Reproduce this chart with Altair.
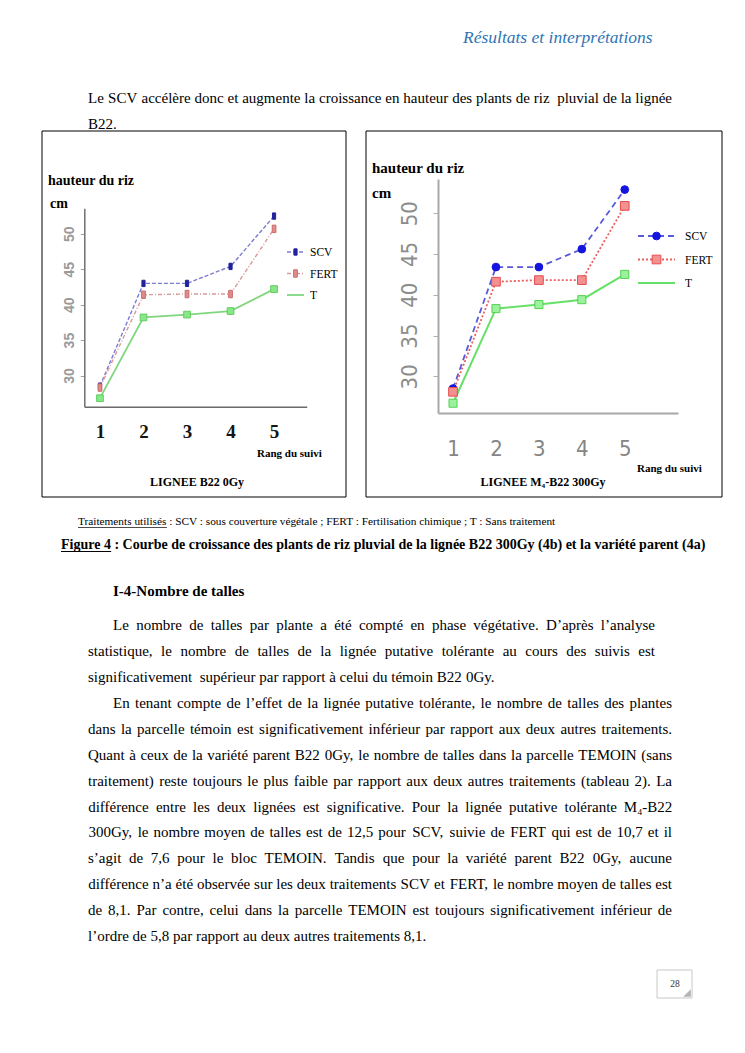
import altair as alt
import pandas as pd

# ----------------------------- data -----------------------------
ranks = [1, 2, 3, 4, 5]
y_ticks = [30, 35, 40, 45, 50]
series_names = ["SCV", "FERT", "T"]

# LIGNEE B22 0Gy (left panel)
b22_scv = [28.5, 43.0, 43.0, 45.4, 52.5]
b22_fert = [28.3, 41.4, 41.5, 41.5, 50.7]
b22_t = [26.8, 38.2, 38.6, 39.1, 42.2]

# LIGNEE M4-B22 300Gy (right panel)
m4_scv = [28.5, 43.4, 43.4, 45.6, 52.9]
m4_fert = [28.1, 41.6, 41.8, 41.8, 50.9]
m4_t = [26.7, 38.3, 38.8, 39.4, 42.5]

header_text = "Résultats et interprétations"
intro_lines = [
    "Le SCV accélère donc et augmente la croissance en hauteur des plants de riz  pluvial de la lignée",
    "B22.",
]
ytitle_1 = "hauteur du riz"
ytitle_2 = "cm"
xtitle = "Rang du suivi"
panel_left_title = "LIGNEE B22 0Gy"
panel_right_title = "LIGNEE M\u2084-B22 300Gy"
caption_label = "Traitements utilisés"
caption_rest = " : SCV : sous couverture végétale ; FERT : Fertilisation chimique ; T : Sans traitement"
figure_label = "Figure 4"
figure_rest = " : Courbe de croissance des plants de riz pluvial  de la lignée B22  300Gy (4b) et la variété parent (4a)"
heading_text = "I-4-Nombre de talles"
para_a = [
    "Le nombre de talles par plante a été compté en phase végétative. D’après l’analyse",
    "statistique, le nombre de talles de la lignée putative tolérante au cours des suivis est",
    "significativement  supérieur par rapport à celui du témoin B22 0Gy.",
]
para_b = [
    "En tenant compte de l’effet de la lignée putative tolérante, le nombre de talles des plantes",
    "dans la parcelle témoin est significativement inférieur par rapport aux deux autres traitements.",
    "Quant à ceux de la variété parent B22 0Gy, le nombre de talles dans la parcelle TEMOIN (sans",
    "traitement) reste toujours le plus faible par rapport aux deux autres traitements (tableau 2). La",
    "différence entre les deux lignées est significative. Pour la lignée putative tolérante M\u2084-B22",
    "300Gy, le nombre moyen de talles est de 12,5 pour SCV, suivie de FERT qui est de 10,7 et il",
    "s’agit de 7,6 pour le bloc TEMOIN. Tandis que pour la variété parent B22 0Gy, aucune",
    "différence n’a été observée sur les deux traitements SCV et FERT, le nombre moyen de talles est",
    "de 8,1. Par contre, celui dans la parcelle TEMOIN est toujours significativement inférieur de",
    "l’ordre de 5,8 par rapport au deux autres traitements 8,1.",
]
page_number = "28"

# ----------------------------- layout helpers -----------------------------
W, H = 729, 1030
OFF = 8
SERIF = "Liberation Serif"
SANS = "Liberation Sans"
NARROW = "Liberation Sans Narrow, DejaVu Sans Condensed, Liberation Sans"


def P(v):
    return v - OFF


TW = {}


def _set(chars, w):
    for c in chars:
        TW[c] = w


_set(" ", 250); _set("0123456789", 500); _set(",.", 250); _set(":;", 278)
_set("-", 333); _set("()", 333); _set("’'", 333); _set("\u2084", 300)
_set("aceéèêàçz", 444); _set("bdghknopquvxy", 500); _set("f", 333); _set("ijlt", 278)
_set("m", 778); _set("r", 333); _set("s", 389); _set("w", 722)
_set("ACDGHKNOQUVXY", 722); _set("BR", 667); _set("EFLTZ", 611); _set("F", 556)
_set("I", 333); _set("J", 389); _set("M", 889); _set("PS", 556); _set("W", 944)

TB = {"F": 611, "i": 278, "g": 500, "u": 556, "r": 444, "e": 444, " ": 250, "4": 500}


def tw(s, size):
    return sum(TW.get(c, 500) for c in s) / 1000.0 * size


LS = 25.8


def word_rows(lines, first_left, left, right, y_first, size):
    rows = []
    spw = tw(" ", size)
    for i, line in enumerate(lines):
        lx = first_left if i == 0 else left
        y = y_first + i * LS
        words = []
        sp = 0
        for tok in line.split(" "):
            if tok == "":
                sp += 1
            else:
                words.append((tok, sp))
                sp = 1
        widths = [tw(w, size) for w, _ in words]
        natural = sum(widths) + sum(s for _, s in words[1:]) * spw
        ngaps = len(words) - 1
        last = i == len(lines) - 1
        extra = 0 if (last or ngaps == 0) else (right - lx - natural) / ngaps
        x = lx
        for k, ((w, s), wd) in enumerate(zip(words, widths)):
            if k > 0:
                x += s * spw + extra
            rows.append({"w": w, "x": P(x + wd / 2), "y": P(y)})
            x += wd
    return rows


def txt(s, x, y, size, weight="normal", style="normal", color="#000000",
        align="left", font=SERIF):
    return alt.Chart(pd.DataFrame({"t": [s]})).mark_text(
        align=align, baseline="alphabetic", fontSize=size, fontWeight=weight,
        fontStyle=style, color=color, font=font
    ).encode(x=alt.value(P(x)), y=alt.value(P(y)), text="t:N")


def rule(x1, x2, y, color="#000000", width=1.0, dash=None):
    kw = dict(color=color, strokeWidth=width)
    if dash is not None:
        kw["strokeDash"] = dash
    return alt.Chart(pd.DataFrame({"k": [0]})).mark_rule(**kw).encode(
        x=alt.value(P(x1)), x2=alt.value(P(x2)), y=alt.value(P(y)))


def box(x1, y1, x2, y2, color="#000000", width=1.0):
    return alt.Chart(pd.DataFrame({"k": [0]})).mark_rect(
        filled=False, stroke=color, strokeWidth=width
    ).encode(x=alt.value(P(x1)), x2=alt.value(P(x2)),
             y=alt.value(P(y1)), y2=alt.value(P(y2)))


def words_layer(rows, size, weight="normal"):
    return alt.Chart(pd.DataFrame(rows)).mark_text(
        align="center", baseline="alphabetic", fontSize=size, font=SERIF,
        fontWeight=weight, color="#000000"
    ).encode(x=alt.X("x:Q", scale=None, axis=None),
             y=alt.Y("y:Q", scale=None, axis=None), text="w:N")


CAP = 11.3
FIG = 14.0

# ----------------------------- page text -----------------------------
page_layers = [
    txt(header_text, 463, 43, 17.5, style="italic", color="#2f75b5"),
    words_layer(word_rows(intro_lines, 88, 88, 672, 103, 15), 15),
    box(42, 131, 346, 497),
    box(366, 131, 722, 497),
    txt(caption_label + caption_rest, 78, 525, CAP),
    rule(78, 78 + tw(caption_label, CAP), 527.5, width=0.7),
    txt(figure_label + figure_rest, 61, 549, FIG, weight="bold"),
    rule(61, 61 + sum(TB[c] for c in figure_label) / 1000 * FIG, 551.5, width=1),
    txt(heading_text, 113, 596, 15, weight="bold"),
    words_layer(word_rows(para_a, 113, 88, 655, 630, 15), 15),
    words_layer(word_rows(para_b, 113, 88, 672, 630 + 3 * LS + 1, 15), 15),
    box(657, 970, 692, 998, color="#c8c8c8"),
    txt(page_number, 675, 987, 9.5, align="center", color="#333333"),
    alt.Chart(pd.DataFrame({"k": [0]})).mark_point(
        shape="M 1 -1 L 1 1 L -1 1 Z", filled=True, color="#b5b5b5", size=60, opacity=1
    ).encode(x=alt.value(P(687)), y=alt.value(P(993))),
]
page = alt.layer(*page_layers)


# ----------------------------- line panels -----------------------------
def panel(values, styles, xs, ys, axx, axy, legend, texts):
    X = alt.X("rang:Q", scale=xs, axis=axx, title=None)
    Y = alt.Y("hauteur:Q", scale=ys, axis=axy, title=None)
    layers = []
    for vals, st in zip(values, styles):
        df = pd.DataFrame({"rang": ranks, "hauteur": vals})
        lk = dict(color=st["line"], strokeWidth=st["lw"])
        if st["dash"] is not None:
            lk["strokeDash"] = st["dash"]
        layers.append(alt.Chart(df).mark_line(**lk).encode(x=X, y=Y))
    for vals, st in zip(values, styles):
        df = pd.DataFrame({"rang": ranks, "hauteur": vals})
        layers.append(alt.Chart(df).mark_point(
            shape=st["shape"], filled=True, fill=st["fill"], stroke=st["stroke"],
            strokeWidth=1, size=st["size"], opacity=1
        ).encode(x=X, y=Y))
    lx1, lx2, ltx, ly0, lstep, lsize = legend
    for k, (name, st) in enumerate(zip(series_names, styles)):
        y = ly0 + k * lstep
        layers.append(rule(lx1, lx2, y, color=st["line"], width=st["lw"], dash=st["dash"]))
        if st["legend_marker"]:
            layers.append(alt.Chart(pd.DataFrame({"k": [0]})).mark_point(
                shape=st["shape"], filled=True, fill=st["fill"], stroke=st["stroke"],
                strokeWidth=1, size=st["size"], opacity=1
            ).encode(x=alt.value(P((lx1 + lx2) / 2)), y=alt.value(P(y))))
        layers.append(txt(name, ltx, y + 4, lsize))
    layers.extend(texts)
    return alt.layer(*layers)


TALL = "M -0.5 -1 L 0.5 -1 L 0.5 1 L -0.5 1 Z"

left_styles = [
    dict(line="#7c7cd0", lw=1.4, dash=[4, 2], shape=TALL, fill="#22229e", stroke="#22229e", size=40, legend_marker=True),
    dict(line="#d89a9a", lw=1.4, dash=[4, 2, 1, 2], shape=TALL, fill="#e08c8c", stroke="#cc6a6a", size=55, legend_marker=True),
    dict(line="#7fd67f", lw=1.8, dash=None, shape="square", fill="#86e886", stroke="#62cc62", size=45, legend_marker=False),
]
right_styles = [
    dict(line="#5a5ad8", lw=1.8, dash=[6, 4], shape="circle", fill="#1515e0", stroke="#1515e0", size=60, legend_marker=True),
    dict(line="#e86060", lw=1.8, dash=[2, 2], shape="square", fill="#f49090", stroke="#e44c4c", size=75, legend_marker=True),
    dict(line="#66e066", lw=2.0, dash=None, shape="square", fill="#9cf29c", stroke="#52d052", size=65, legend_marker=False),
]

# left panel scales / axes
xsL = alt.Scale(domain=[0.64, 5.75], range=[P(84.3), P(306.7)], nice=False, zero=False)
ysL = alt.Scale(domain=[25.6, 53.6], range=[P(406.7), P(208.3)], nice=False, zero=False)
axXL = alt.Axis(orient="bottom", offset=P(406.7) - H, values=ranks, format="d", ticks=False,
                labelPadding=16, labelFont=SERIF, labelFontWeight="bold", labelFontSize=19,
                labelColor="#141414", domainColor="#6a6a6a", domainWidth=1.5, grid=False,
                labelFlush=False, labelOverlap=False)
axYL = alt.Axis(orient="left", offset=-P(84.3), values=y_ticks, format="d", labelAngle=270,
                labelAlign="center", labelBaseline="bottom", labelFont=SANS, labelFontSize=14,
                labelFontWeight="bold", labelColor="#9a9a9a", labelPadding=4, tickSize=4,
                tickColor="#a0a0a0", domainColor="#707070", domainWidth=1.5, grid=False,
                labelFlush=False, labelOverlap=False)
left_texts = [
    txt(ytitle_1, 48, 185, 14, weight="bold"),
    txt(ytitle_2, 50, 208, 14, weight="bold"),
    txt(xtitle, 257, 457, 11, weight="bold"),
    txt(panel_left_title, 197, 486, 12, weight="bold", align="center"),
]
left = panel([b22_scv, b22_fert, b22_t], left_styles, xsL, ysL, axXL, axYL,
             (287, 304, 310, 252, 21.5, 11.5), left_texts)

# right panel scales / axes
xsR = alt.Scale(domain=[0.65, 6.24], range=[P(438), P(678)], nice=False, zero=False)
ysR = alt.Scale(domain=[25.5, 54.2], range=[P(413), P(179)], nice=False, zero=False)
axXR = alt.Axis(orient="bottom", offset=P(413) - H, values=ranks, format="d", ticks=False,
                labelPadding=25, labelFont=NARROW, labelFontSize=22,
                labelColor="#858585", domainColor="#a8a8a8", domainWidth=2, grid=False,
                labelFlush=False, labelOverlap=False)
axYR = alt.Axis(orient="left", offset=-P(438), values=y_ticks, format="d", labelAngle=270,
                labelAlign="center", labelBaseline="bottom", labelFont=NARROW, labelFontSize=22,
                labelColor="#8c8c8c", labelPadding=12, tickSize=5, tickColor="#b0b0b0",
                domainColor="#a8a8a8", domainWidth=2, grid=False, labelFlush=False,
                labelOverlap=False)
right_texts = [
    txt(ytitle_1, 372, 173, 15, weight="bold"),
    txt(ytitle_2, 372, 198, 15, weight="bold"),
    txt(xtitle, 637, 472, 11, weight="bold"),
    txt(panel_right_title, 543, 486, 12, weight="bold", align="center"),
]
right = panel([m4_scv, m4_fert, m4_t], right_styles, xsR, ysR, axXR, axYR,
              (638, 675, 685, 236, 23.5, 11.5), right_texts)

chart = alt.layer(page, left, right).resolve_scale(
    x="independent", y="independent"
).properties(
    width=W, height=H, padding=0, autosize=alt.AutoSizeParams(type="none"),
    background="#ffffff"
).configure_view(stroke=None)

chart.save("out.html", embed_options={"renderer": "svg", "actions": False})
